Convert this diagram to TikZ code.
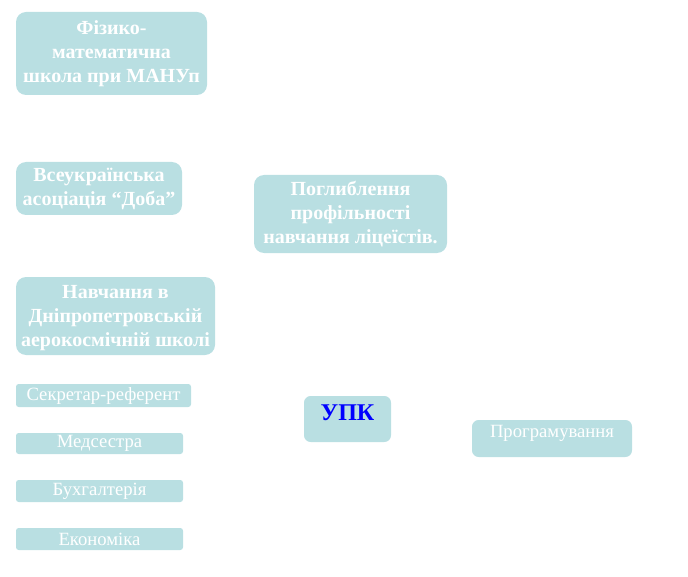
\documentclass[tikz,border=0pt]{standalone}
\usepackage{fontspec}
\setmainfont{Liberation Serif}
\usepackage{xcolor}
\usepackage{tikz}
\usetikzlibrary{positioning}
\definecolor{UPKteal}{HTML}{B9DFE2}
\definecolor{UPKblue}{HTML}{0000FF}
\tikzset{
  bigbox/.style={fill=UPKteal, rounded corners=7.5pt},
  smallbox/.style={fill=UPKteal, rounded corners=2pt},
  boldtxt/.style={font=\fontsize{15}{18}\selectfont\bfseries, white, align=center, inner sep=0pt},
  plaintxt/.style={font=\fontsize{14}{16}\selectfont, white, align=center, inner sep=0pt}
}
\begin{document}
\begin{tikzpicture}[x=0.75pt, y=-0.75pt]
  \useasboundingbox (0,0) rectangle (688,577);
  % left column
  \fill[bigbox] (16,12) rectangle (207,95);
  \node[boldtxt] (fizmat) at (111.5,53.5) {Фізико-\\математична\\школа при МАНУп};
  \fill[bigbox] (16,162) rectangle (182,215);
  \node[boldtxt] (doba) at (99,189) {Всеукраїнська\\асоціація “Доба”};
  \fill[bigbox] (16,277) rectangle (215,355);
  \node[boldtxt] (aerokosm) at (115.5,318) {Навчання в\\Дніпропетровській\\аерокосмічній школі};
  % professions
  \fill[smallbox] (16,384) rectangle (191,407);
  \node[plaintxt] (sekretar) at (103.5,396) {Секретар-референт};
  \fill[smallbox] (16,433) rectangle (183,454);
  \node[plaintxt] (medsestra) at (99.5,443) {Медсестра};
  \fill[smallbox] (16,480) rectangle (183,502);
  \node[plaintxt] (buh) at (99.5,491) {Бухгалтерія};
  \fill[smallbox] (16,528) rectangle (183,550);
  \node[plaintxt] (ekonom) at (99.5,539) {Економіка};
  % middle and right
  \fill[bigbox] (254,175) rectangle (447,253);
  \node[boldtxt] (profil) at (350.5,214) {Поглиблення\\профільності\\навчання ліцеїстів.};
  \fill[smallbox, rounded corners=5pt] (304,396) rectangle (391,442);
  \node[font=\fontsize{18}{20}\selectfont\bfseries, UPKblue, inner sep=0pt] (upk) at (347.5,413) {УПК};
  \fill[smallbox, rounded corners=5pt] (472,420) rectangle (632,457);
  \node[plaintxt] (prog) at (552,433) {Програмування};
\end{tikzpicture}
\end{document}
